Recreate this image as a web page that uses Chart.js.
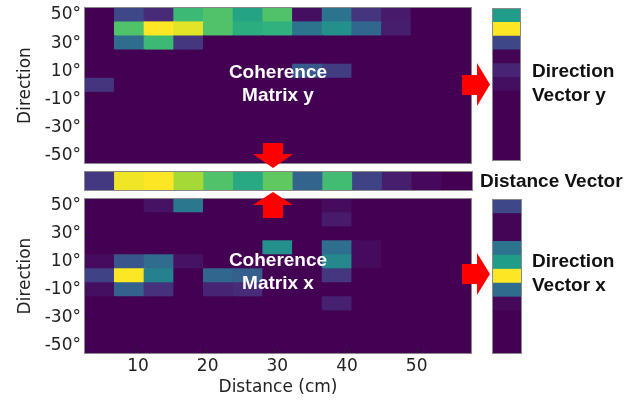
<!DOCTYPE html>
<html lang="en">
<head>
<meta charset="UTF-8" />
<title>Coherence matrices</title>
<script src="https://cdn.jsdelivr.net/npm/chart.js"></script>
<style>
  body { margin: 0; background: #fff; }
  #fig { position: relative; width: 642px; height: 400px; overflow: hidden; background: #fff; }
  #fig canvas { position: absolute; }
  #fig svg { position: absolute; left: 0; top: 0; }
  .lbl { position: absolute; font-family: "Liberation Sans", Arial, sans-serif; font-weight: bold;
         font-size: 19px; line-height: 24px; color: #111; white-space: nowrap; }
  .inside { color: #fff; text-align: center; width: 160px; line-height: 23px; }
</style>
</head>
<body>
<div id="fig">
  <canvas id="matY" width="472" height="170" style="left:0;top:0"></canvas>
  <canvas id="distVec" width="473" height="30" style="left:0;top:165px"></canvas>
  <canvas id="matX" width="472" height="208" style="left:0;top:192px"></canvas>
  <canvas id="dirY" width="50" height="170" style="left:480px;top:0"></canvas>
  <canvas id="dirX" width="50" height="170" style="left:480px;top:192px"></canvas>

  <svg width="642" height="400">
    <g fill="#ff0000">
      <polygon points="263,143 283,143 283,154 293,154 273,168 253,154 263,154" />
      <polygon points="273,192 293,205 283,205 283,218 263,218 263,205 253,205" />
      <polygon points="462,75 477,75 477,63 490,84.5 477,106 477,95 462,95" />
      <polygon points="462,264 477,264 477,253 490,274 477,295 477,284 462,284" />
    </g>
  </svg>

  <div class="lbl inside" style="left:198px;top:60px">Coherence<br>Matrix y</div>
  <div class="lbl inside" style="left:198px;top:248px">Coherence<br>Matrix x</div>
  <div class="lbl" style="left:532px;top:59px">Direction<br>Vector y</div>
  <div class="lbl" style="left:532px;top:249px">Direction<br>Vector x</div>
  <div class="lbl" style="left:480px;top:169px">Distance Vector</div>
</div>

<script>
  // distance bins (cm), centre of each column
  const distances = [4.53, 8.79, 13.05, 17.31, 21.57, 25.83, 30.09, 34.35, 38.61, 42.87, 47.13, 51.39, 55.65];
  // direction bins (deg), top row first
  const directions = [50, 40, 30, 20, 10, 0, -10, -20, -30, -40, -50];
  const distTicks = [10, 20, 30, 40, 50];
  const dirTicks = [50, 30, 10, -10, -30, -50];
  const distRange = [2.4, 57.8];
  const dirRange = [-55, 55];
  const dirHalf = 5;

  // coherence (0..1), one row per direction
  const coherenceY = [
    [0, 0.22, 0.12, 0.68, 0.72, 0.58, 0.72, 0.04, 0.38, 0.15, 0.07, 0, 0],
    [0, 0.72, 1.00, 0.96, 0.72, 0.62, 0.64, 0.38, 0.50, 0.33, 0.08, 0, 0],
    [0, 0.35, 0.68, 0.16, 0, 0, 0, 0, 0, 0, 0, 0, 0],
    [0, 0, 0, 0, 0, 0, 0, 0, 0, 0, 0, 0, 0],
    [0, 0, 0, 0, 0, 0, 0, 0.28, 0.18, 0, 0, 0, 0],
    [0.15, 0, 0, 0, 0, 0, 0, 0, 0, 0, 0, 0, 0],
    [0, 0, 0, 0, 0, 0, 0, 0, 0, 0, 0, 0, 0],
    [0, 0, 0, 0, 0, 0, 0, 0, 0, 0, 0, 0, 0],
    [0, 0, 0, 0, 0, 0, 0, 0, 0, 0, 0, 0, 0],
    [0, 0, 0, 0, 0, 0, 0, 0, 0, 0, 0, 0, 0],
    [0, 0, 0, 0, 0, 0, 0, 0, 0, 0, 0, 0, 0]
  ];
  const coherenceX = [
    [0, 0, 0.05, 0.40, 0, 0, 0, 0, 0.03, 0, 0, 0, 0],
    [0, 0, 0, 0, 0, 0, 0, 0, 0.07, 0, 0, 0, 0],
    [0, 0, 0, 0, 0, 0, 0, 0, 0, 0, 0, 0, 0],
    [0, 0, 0, 0, 0, 0, 0.50, 0, 0.36, 0.03, 0, 0, 0],
    [0.03, 0.27, 0.35, 0.05, 0, 0, 0, 0, 0.47, 0.03, 0, 0, 0],
    [0.20, 1.00, 0.44, 0, 0.33, 0.30, 0, 0, 0.16, 0, 0, 0, 0],
    [0.04, 0.31, 0.14, 0, 0.10, 0.12, 0, 0, 0, 0, 0, 0, 0],
    [0, 0, 0, 0, 0, 0, 0, 0, 0.09, 0, 0, 0, 0],
    [0, 0, 0, 0, 0, 0, 0, 0, 0, 0, 0, 0, 0],
    [0, 0, 0, 0, 0, 0, 0, 0, 0, 0, 0, 0, 0],
    [0, 0, 0, 0, 0, 0, 0, 0, 0, 0, 0, 0, 0]
  ];
  const distanceVector = [0.17, 0.98, 1.00, 0.86, 0.72, 0.60, 0.75, 0.32, 0.69, 0.20, 0.08, 0.02, 0];
  const directionVectorY = [0.55, 1.00, 0.22, 0.01, 0.10, 0.04, 0, 0, 0, 0, 0];
  const directionVectorX = [0.22, 0.01, 0.01, 0.38, 0.55, 1.00, 0.35, 0.02, 0, 0, 0];

  const VIRIDIS = ['#440154', '#482878', '#3e4989', '#31688e', '#26828e',
                   '#1f9e89', '#35b779', '#6ece58', '#b5de2b', '#fde725'];
  const hex = h => [1, 3, 5].map(i => parseInt(h.slice(i, i + 2), 16));
  function viridis(t) {
    t = Math.max(0, Math.min(1, t)) * (VIRIDIS.length - 1);
    const i = Math.min(Math.floor(t), VIRIDIS.length - 2), f = t - i;
    const a = hex(VIRIDIS[i]), b = hex(VIRIDIS[i + 1]);
    return 'rgb(' + a.map((c, k) => Math.round(c + (b[k] - c) * f)).join(',') + ')';
  }

  Chart.defaults.font.family = 'DejaVu Sans';
  Chart.defaults.color = '#222';

  const frame = {
    id: 'frame',
    afterDraw(chart) {
      const {ctx, chartArea: a} = chart;
      ctx.save();
      ctx.strokeStyle = '#8a8a8a';
      ctx.lineWidth = 1;
      ctx.strokeRect(Math.round(a.left) - 0.5, Math.round(a.top) - 0.5,
                     Math.round(a.right - a.left) + 1, Math.round(a.bottom - a.top) + 1);
      ctx.restore();
    }
  };

  const noPlugins = { legend: { display: false }, tooltip: { enabled: false } };
  const labelFont = { family: 'DejaVu Sans', size: 17 };
  const cellStyle = { borderWidth: 0, barPercentage: 1, categoryPercentage: 1, inflateAmount: 0.7 };

  function xDistance(show) {
    return {
      type: 'linear', min: distRange[0], max: distRange[1], offset: false, display: show,
      grid: { offset: false, drawOnChartArea: false, tickLength: -5, tickColor: '#222', z: 1 },
      border: { display: false },
      afterBuildTicks: s => { s.ticks = distTicks.map(v => ({ value: v })); },
      ticks: { padding: 8, font: labelFont, maxRotation: 0, autoSkip: false },
      title: { display: true, text: 'Distance (cm)', font: labelFont, padding: { top: 0, bottom: 2 } },
      afterFit: s => {
        if (show) s.height = 47;
        s.paddingLeft = 0; s.paddingRight = 0;
      }
    };
  }

  function yDirection() {
    return {
      type: 'linear', min: dirRange[0], max: dirRange[1],
      grid: { drawOnChartArea: false, tickLength: -3, tickColor: '#222', z: 1 },
      border: { display: false },
      afterBuildTicks: s => { s.ticks = dirTicks.map(v => ({ value: v })); },
      ticks: { padding: 7, font: labelFont, autoSkip: false, callback: v => v + '°' },
      title: { display: true, text: 'Direction', font: labelFont, padding: { top: 15, bottom: 0 } },
      afterFit: s => { s.width = 85; s.paddingTop = 0; s.paddingBottom = 0; }
    };
  }

  function matrixChart(id, rows, showX, padding) {
    const cells = [];
    rows.forEach((row, r) => row.forEach((v, c) => {
      cells.push({ x: distances[c], y: [directions[r] - dirHalf, directions[r] + dirHalf], v });
    }));
    return new Chart(id, {
      type: 'bar',
      data: { datasets: [{
        data: cells,
        backgroundColor: cells.map(c => viridis(c.v)),
        ...cellStyle
      }] },
      options: {
        responsive: false, animation: false,
        layout: { padding },
        plugins: noPlugins,
        scales: { x: xDistance(showX), y: yDirection() }
      },
      plugins: [frame]
    });
  }

  matrixChart('matY', coherenceY, false, { left: 0, top: 8, right: 1, bottom: 7 });
  matrixChart('matX', coherenceX, true, { left: 0, top: 7, right: 1, bottom: 0 });

  // distance vector strip
  new Chart('distVec', {
    type: 'bar',
    data: { datasets: [{
      data: distanceVector.map((v, c) => ({ x: distances[c], y: [0, 1] })),
      backgroundColor: distanceVector.map(viridis),
      ...cellStyle
    }] },
    options: {
      responsive: false, animation: false,
      layout: { padding: { left: 85, top: 7, right: 1, bottom: 5 } },
      plugins: noPlugins,
      scales: {
        x: xDistance(false),
        y: { type: 'linear', min: 0, max: 1, display: false }
      }
    },
    plugins: [frame]
  });

  // direction vector strips
  function directionStrip(id, values, padding) {
    return new Chart(id, {
      type: 'bar',
      data: {
        labels: ['v'],
        datasets: [{
          data: values.map((v, r) => ({ x: 'v', y: [directions[r] - dirHalf, directions[r] + dirHalf] })),
          backgroundColor: values.map(viridis),
          ...cellStyle
        }]
      },
      options: {
        responsive: false, animation: false,
        layout: { padding },
        plugins: noPlugins,
        scales: {
          x: { display: false },
          y: { type: 'linear', min: dirRange[0], max: dirRange[1], display: false }
        }
      },
      plugins: [frame]
    });
  }

  directionStrip('dirY', directionVectorY, { left: 13, top: 9, right: 10, bottom: 10 });
  directionStrip('dirX', directionVectorX, { left: 13, top: 8, right: 9, bottom: 9 });
</script>
</body>
</html>
